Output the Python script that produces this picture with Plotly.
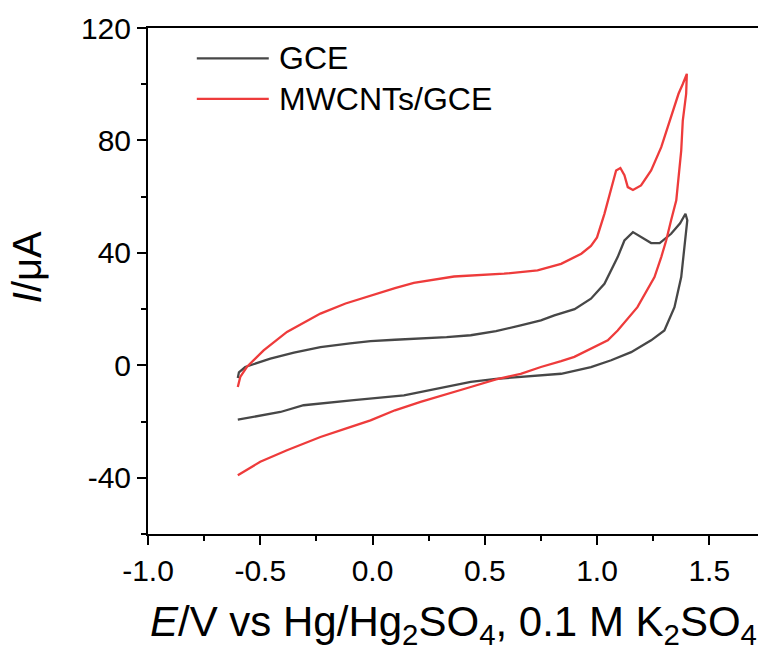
import plotly.graph_objects as go

# ---- data ----
gce_E = [-0.600, -0.595, -0.567, -0.500, -0.455, -0.350, -0.232, -0.100, -0.009, 0.100,
         0.214, 0.330, 0.4375, 0.550, 0.660, 0.750, 0.810, 0.900, 0.973, 1.033,
         1.092, 1.122, 1.160, 1.196, 1.241, 1.279, 1.330, 1.370, 1.394, 1.402,
         1.390, 1.375, 1.345, 1.300, 1.241, 1.152, 1.063, 0.973, 0.840, 0.750,
         0.660, 0.550, 0.4375, 0.289, 0.140, -0.083, -0.200, -0.307, -0.410, -0.500, -0.600]
gce_I = [-4.5, -2.5, -0.6, 1.2, 2.4, 4.5, 6.5, 7.8, 8.6, 9.1,
         9.5, 10.0, 10.7, 12.2, 14.2, 16.0, 17.8, 20.0, 23.7, 29.0,
         38.5, 44.4, 47.4, 45.6, 43.5, 43.5, 46.8, 50.5, 53.9, 51.6,
         43.3, 31.4, 20.7, 12.4, 8.9, 4.7, 1.8, -0.6, -3.0, -3.6,
         -4.1, -4.8, -5.9, -8.3, -10.7, -12.4, -13.2, -14.2, -16.6, -17.8, -19.3]

mw_E = [-0.600, -0.595, -0.589, -0.560, -0.520, -0.485, -0.381, -0.300, -0.232, -0.120,
        -0.009, 0.100, 0.184, 0.363, 0.586, 0.735, 0.840, 0.930, 0.973, 1.000,
        1.033, 1.063, 1.085, 1.104, 1.122, 1.137, 1.160, 1.196, 1.241, 1.286,
        1.330, 1.363, 1.382, 1.400, 1.397, 1.382, 1.375, 1.367, 1.353, 1.330,
        1.308, 1.286, 1.256, 1.180, 1.092, 1.048, 0.973, 0.899, 0.840, 0.750,
        0.660, 0.550, 0.4375, 0.330, 0.214, 0.100, -0.009, -0.120, -0.232, -0.381,
        -0.500, -0.600]
mw_I = [-7.7, -5.5, -4.1, -0.6, 2.5, 5.3, 11.9, 15.5, 18.4, 22.0,
        24.9, 27.5, 29.3, 31.6, 32.6, 33.8, 36.1, 39.7, 42.5, 45.5,
        53.9, 63.4, 69.3, 70.2, 67.6, 63.4, 62.4, 64.0, 69.3, 77.6,
        88.3, 96.6, 100.1, 103.7, 96.6, 87.1, 76.4, 69.3, 58.7, 51.6,
        44.4, 38.5, 31.4, 20.7, 12.4, 8.9, 5.9, 3.0, 1.5, -0.6,
        -3.0, -5.0, -7.7, -10.2, -13.0, -16.0, -19.6, -22.5, -25.5, -30.2,
        -34.3, -39.1]

series_names = ["GCE", "MWCNTs/GCE"]
series_colors = ["#474747", "#EE3B3B"]

x_ticks = [-1.0, -0.5, 0.0, 0.5, 1.0, 1.5]
x_ticklabels = ["-1.0", "-0.5", "0.0", "0.5", "1.0", "1.5"]
y_ticks = [-40, 0, 40, 80, 120]
y_ticklabels = ["-40", "0", "40", "80", "120"]

x_title = "<i>E</i>/V vs Hg/Hg<sub>2</sub>SO<sub>4</sub>, 0.1 M K<sub>2</sub>SO<sub>4</sub>"
y_title = "<i>I</i>/μA"

FONT = "Liberation Sans, Arial, sans-serif"

fig = go.Figure()
for (xs, ys), name, col in zip([(gce_E, gce_I), (mw_E, mw_I)], series_names, series_colors):
    fig.add_trace(go.Scatter(x=xs, y=ys, mode="lines", name=name,
                             line=dict(color=col, width=2.3), showlegend=False))

# custom legend (long line samples like the reference)
leg_y = [0.940, 0.860]
for yy, name, col in zip(leg_y, series_names, series_colors):
    fig.add_shape(type="line", xref="paper", yref="paper",
                  x0=0.080, x1=0.198, y0=yy, y1=yy,
                  line=dict(color=col, width=2.3))
    fig.add_annotation(xref="paper", yref="paper", x=0.212, y=yy,
                       text=name, showarrow=False, xanchor="left", yanchor="middle",
                       font=dict(family=FONT, size=32, color="black"))

# axis titles placed as annotations for exact positioning
fig.add_annotation(xref="paper", yref="paper", x=0.5, y=-0.178,
                   text=x_title, showarrow=False, xanchor="center", yanchor="middle",
                   font=dict(family=FONT, size=42, color="black"))
fig.add_annotation(xref="paper", yref="paper", x=-0.197, y=0.527,
                   text=y_title, showarrow=False, textangle=-90,
                   xanchor="center", yanchor="middle",
                   font=dict(family=FONT, size=40, color="black"))

axis_common = dict(
    showline=True, linecolor="black", linewidth=2,
    ticks="outside", ticklen=9, tickwidth=2, tickcolor="black",
    showgrid=False, zeroline=False, automargin=False,
    tickfont=dict(family=FONT, size=30, color="black"),
)

fig.update_xaxes(
    **axis_common,
    range=[-1.0, 1.717], mirror=True,
    tickvals=x_ticks, ticktext=x_ticklabels,
    minor=dict(ticks="outside", ticklen=5, tickwidth=2, tickcolor="black", dtick=0.25, tick0=0),
)
fig.update_yaxes(
    **axis_common,
    range=[-60, 120], mirror=False,
    tickvals=y_ticks, ticktext=y_ticklabels,
    minor=dict(ticks="outside", ticklen=5, tickwidth=2, tickcolor="black", dtick=20, tick0=0),
)

fig.update_layout(
    width=758, height=651,
    margin=dict(l=148, r=0, t=28, b=117),
    paper_bgcolor="white", plot_bgcolor="white",
    font=dict(family=FONT, color="black"),
)

fig.write_html("out.html",
               config={"displayModeBar": False, "staticPlot": True},
               post_script="document.body.style.margin='0';document.body.style.overflow='hidden';")
